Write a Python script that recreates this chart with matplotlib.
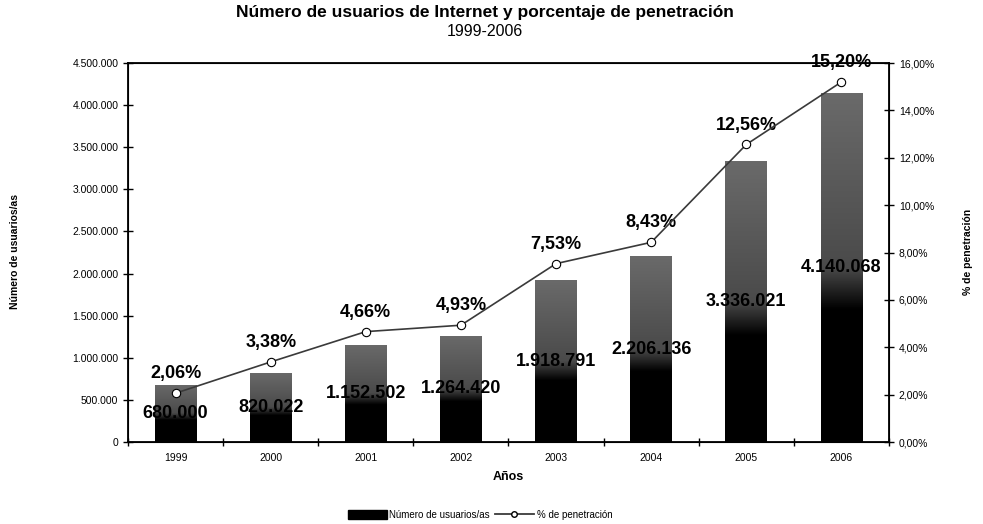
import matplotlib
matplotlib.use("Agg")
import matplotlib.pyplot as plt
import numpy as np
from matplotlib.colors import LinearSegmentedColormap
from matplotlib.lines import Line2D
from matplotlib.patches import Patch
from matplotlib.ticker import FuncFormatter, FixedLocator

plt.rcParams['font.family'] = ['Liberation Sans', 'DejaVu Sans']

years = ['1999', '2000', '2001', '2002', '2003', '2004', '2005', '2006']
usuarios = [680000, 820022, 1152502, 1264420, 1918791, 2206136, 3336021, 4140068]
penetracion = [2.06, 3.38, 4.66, 4.93, 7.53, 8.43, 12.56, 15.20]


def miles(v):
    return f"{int(round(v)):,}".replace(",", ".")


def pct(v):
    return f"{v:.2f}".replace(".", ",") + "%"


fig = plt.figure(figsize=(9.83, 5.24), dpi=100)
ax = fig.add_axes([128 / 983, 1 - 442 / 524, (889 - 128) / 983, (442 - 63) / 524])

x = np.arange(len(years))
bars = ax.bar(x, usuarios, width=0.44, color='black', zorder=2)

# degradado negro abajo / gris arriba dentro de cada barra
cmap = LinearSegmentedColormap.from_list(
    'barra', [(0, '#000000'), (0.38, '#000000'), (0.5, '#4a4a4a'), (1.0, '#6a6a6a')])
grad = np.linspace(0, 1, 256).reshape(-1, 1)
for b in bars:
    x0, w, h = b.get_x(), b.get_width(), b.get_height()
    im = ax.imshow(grad, extent=[x0, x0 + w, 0, h], origin='lower', aspect='auto',
                   cmap=cmap, zorder=3)
    im.set_clip_path(b)

for i, v in enumerate(usuarios):
    ax.text(i, v / 2, miles(v), ha='center', va='center', fontsize=13,
            fontweight='bold', color='black', zorder=4)

ax.set_xlim(-0.5, len(years) - 0.5)
ax.set_ylim(0, 4500000)
ax.yaxis.set_major_locator(FixedLocator(np.arange(0, 4500001, 500000)))
ax.yaxis.set_major_formatter(FuncFormatter(lambda v, p: miles(v)))
ax.xaxis.set_major_locator(FixedLocator(np.arange(-0.5, len(years), 1.0)))
ax.xaxis.set_major_formatter(FuncFormatter(lambda v, p: ''))
ax.xaxis.set_minor_locator(FixedLocator(x))
ax.set_xticklabels(years, minor=True)
ax.tick_params(axis='x', which='minor', length=0, labelsize=7.5, pad=8)
ax.tick_params(axis='x', which='major', direction='inout', length=6, width=1)
ax.tick_params(axis='y', direction='inout', length=7, width=1, labelsize=7.5)
for s in ax.spines.values():
    s.set_linewidth(1.3)

ax2 = ax.twinx()
ax2.set_ylim(0, 16)
ax2.yaxis.set_major_locator(FixedLocator(np.arange(0, 16.1, 2)))
ax2.yaxis.set_major_formatter(FuncFormatter(lambda v, p: pct(v)))
ax2.tick_params(axis='y', direction='inout', length=7, width=1, labelsize=7.5)
ax2.plot(x, penetracion, color='#3a3a3a', lw=1.2, marker='o', ms=6,
         mfc='white', mec='black', mew=0.8, zorder=5)
for i, p in enumerate(penetracion):
    ax2.annotate(pct(p), (i, p), xytext=(0, 14), textcoords='offset points',
                 ha='center', va='center', fontsize=13, fontweight='bold')

ax.set_xlabel('Años', fontsize=9, fontweight='bold', labelpad=6)
fig.text(15 / 983, 0.5 + 0.02, 'Número de usuarios/as', rotation=90, ha='center',
         va='center', fontsize=7.5, fontweight='bold')
fig.text(968 / 983, 0.5 + 0.02, '% de penetración', rotation=90, ha='center',
         va='center', fontsize=7.5, fontweight='bold')

fig.text(485 / 983, 1 - 13 / 524, 'Número de usuarios de Internet y porcentaje de penetración',
         ha='center', va='center', fontsize=12.5, fontweight='bold')
fig.text(485 / 983, 1 - 31 / 524, '1999-2006', ha='center', va='center', fontsize=11.5)

handles = [Patch(facecolor='black', edgecolor='black'),
           Line2D([], [], color='#3a3a3a', lw=1.3, marker='o', ms=4, mfc='white', mec='black')]
fig.legend(handles, ['Número de usuarios/as', '% de penetración'], loc='center',
           bbox_to_anchor=(480 / 983, 1 - 515 / 524), ncol=2, frameon=False, fontsize=7,
           handlelength=4, handleheight=1.0, columnspacing=0.5, handletextpad=0.3)

fig.savefig('out.png', dpi=100)
